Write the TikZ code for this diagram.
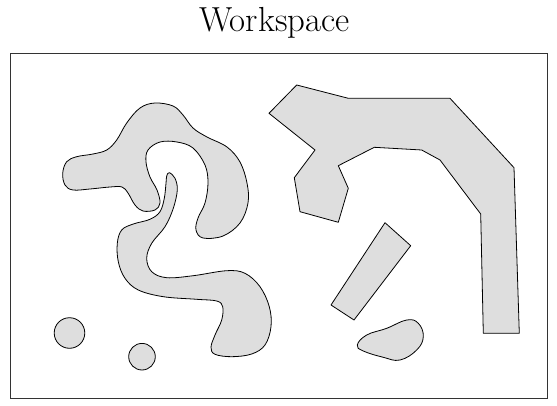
\documentclass[tikz,border=0pt]{standalone}
\definecolor{obst}{RGB}{222,222,222}
\tikzset{
  obstacle/.style={draw=black, fill=obst, line width=0.8pt, line join=round},
  frame/.style={draw=black!80, line width=1pt},
}
\begin{document}
\begin{tikzpicture}[x={(1pt,0)}, y={(0,-1pt)}]
\useasboundingbox (0,0) rectangle (557,406);
\node[anchor=base, font=\fontsize{34.8}{42}\selectfont, inner sep=0pt] (title) at (274.5,32) {Workspace};
\draw[frame] (10,54) rectangle (547,398);
% top hook blob
\draw[obstacle] plot[smooth cycle, tension=0.6] coordinates {
 (62.7,173.3) (66.7,161.7) (76.7,156.7) (93,154) (106.7,150) (116.7,140) (126.7,123)
 (140,108) (155,103) (173,106) (183,115) (193,128) (207,137) (227,147) (240,162)
 (247,183) (248,203) (240,223) (223,236) (203,238) (196,230) (198,218) (205,203)
 (208,183) (205,165) (193,148) (177,142) (160,142) (148,150) (146,162) (150,177)
 (157,190) (160,203) (155,210) (143,211) (135,205) (128,193) (122,187) (110,187)
 (90,189) (73,190) (65,185)};
% S-shaped blob
\draw[obstacle] plot[smooth cycle, tension=0.6] coordinates {
 (169.3,172.7) (175,178.3) (177.3,190) (173.3,208.3) (165,226.7) (151.7,243.3)
 (146.7,258.3) (151.7,271.7) (166.7,277.7) (193.3,275.7) (226.7,270.7) (245,273.3)
 (260,286.7) (269.3,306.7) (271,326.7) (265,345) (251.7,354) (231.7,356.7)
 (215,354.3) (211,347.3) (215,335) (221.7,320) (222.7,306.7) (216.7,301)
 (196.7,299.3) (163.3,296.7) (138.3,290) (125,278.3) (118.3,261.7) (117.3,243.3)
 (121.7,230) (133.3,224) (150,219.3) (160,211.7) (164.3,198.3) (166,183.3) (166.7,176)};
% circles
\draw[obstacle] (69.5,333) circle (15.3);
\draw[obstacle] (142,356.7) circle (13.3);
% big polygon
\draw[obstacle] (296.7,85) -- (348.3,98.3) -- (450,98.3) -- (514,167.7) -- (519.3,333.3)
 -- (483.3,333.3) -- (480.7,214) -- (440,160) -- (421.7,150) -- (374.3,147.3)
 -- (338.3,165.7) -- (348.3,188.3) -- (338.3,222.3) -- (300,211.7) -- (294.3,177.7)
 -- (315,150) -- (269,113.3) -- cycle;
% rotated rectangle
\draw[obstacle] (385,222.7) -- (410.7,245.7) -- (354,320) -- (331,305) -- cycle;
% small blob
\draw[obstacle] plot[smooth cycle, tension=0.7] coordinates {
 (357.3,345) (366.7,335) (386.7,328.3) (406.7,320) (418.3,323.3) (423.3,336.7)
 (416.7,350) (400,360) (383.3,357.3) (363.3,351)};
\end{tikzpicture}
\end{document}
